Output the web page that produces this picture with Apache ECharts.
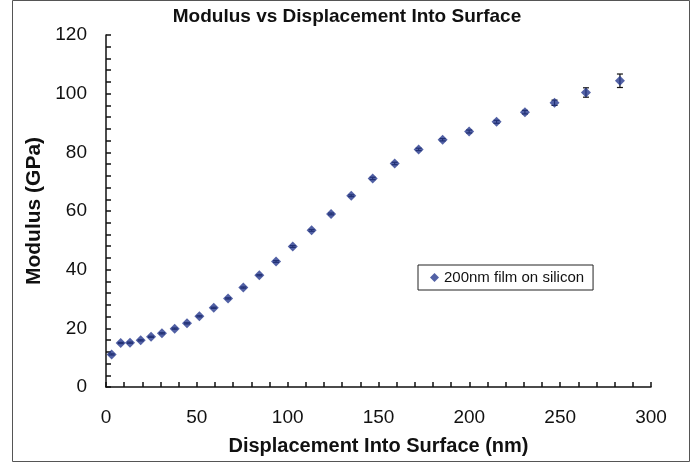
<!DOCTYPE html>
<html>
<head>
<meta charset="utf-8">
<script src="https://cdn.jsdelivr.net/npm/echarts@6/dist/echarts.min.js"></script>
<style>
html,body{margin:0;padding:0;background:#fff;}
#main{width:694px;height:463px;}
</style>
</head>
<body>
<div id="main"></div>
<script>
// displacement (nm) and modulus (GPa)
var depth = [3.1, 8.1, 13.2, 19.1, 24.8, 30.8, 37.8, 44.6, 51.4, 59.3, 67.2, 75.6, 84.4, 93.6,
	102.8, 113.2, 123.9, 135.0, 146.8, 158.9, 172.1, 185.3, 199.9, 215.0, 230.6, 246.9, 264.2, 282.9];
var modulus = [11.1, 15.0, 15.1, 15.9, 17.1, 18.3, 19.9, 21.7, 24.1, 27.0, 30.2, 33.9, 38.1, 42.8,
	47.9, 53.4, 59.0, 65.2, 71.1, 76.2, 81.0, 84.3, 87.1, 90.4, 93.7, 96.9, 100.4, 104.4];
var errBar = [0.2, 0.2, 0.2, 0.2, 0.2, 0.2, 0.2, 0.2, 0.2, 0.2, 0.2, 0.2, 0.2, 0.3,
	0.3, 0.3, 0.3, 0.3, 0.4, 0.4, 0.4, 0.4, 0.5, 0.5, 0.6, 0.9, 1.6, 2.3];
var seriesName = '200nm film on silicon';

var points = [], bars = [];
for (var i = 0; i < depth.length; i++) {
	points.push([depth[i], modulus[i]]);
	bars.push([depth[i], modulus[i] - errBar[i], modulus[i] + errBar[i]]);
}

var myChart = echarts.init(document.getElementById('main'));
var option = {
	backgroundColor: '#fff',
	animation: false,
	textStyle: { fontFamily: 'Liberation Sans, Arial, sans-serif' },
	title: {
		text: 'Modulus vs Displacement Into Surface',
		left: 'center',
		top: 2,
		textStyle: { fontSize: 19, fontWeight: 'bold', color: '#111' }
	},
	graphic: [{
		type: 'rect',
		shape: { x: 12.5, y: 0.5, width: 677, height: 461 },
		style: { fill: 'none', stroke: '#555', lineWidth: 1 },
		silent: true
	}],
	legend: {
		data: [{ name: seriesName, icon: 'diamond' }],
		left: 418,
		top: 265,
		itemWidth: 9,
		itemHeight: 9,
		itemGap: 4,
		padding: [5, 9, 5, 12],
		borderColor: '#222',
		borderWidth: 1,
		textStyle: { fontSize: 15, color: '#111' }
	},
	grid: { left: 106, right: 43, top: 35, bottom: 76 },
	xAxis: {
		type: 'value',
		min: 0, max: 300, interval: 50,
		name: 'Displacement Into Surface (nm)',
		nameLocation: 'middle',
		nameGap: 49,
		nameTextStyle: { fontSize: 20, fontWeight: 'bold', color: '#111' },
		axisLine: { lineStyle: { color: '#111', width: 1.5 } },
		axisTick: { show: true, inside: true, length: 5, lineStyle: { color: '#111', width: 1.5 } },
		minorTick: { show: true, splitNumber: 5, length: 5, lineStyle: { color: '#111', width: 1.5 } },
		axisLabel: { fontSize: 19, color: '#111', margin: 21 },
		splitLine: { show: false }
	},
	yAxis: {
		type: 'value',
		min: 0, max: 120, interval: 20,
		name: 'Modulus (GPa)',
		nameLocation: 'middle',
		nameGap: 55,
		nameTextStyle: { fontSize: 21, fontWeight: 'bold', color: '#111' },
		axisLine: { show: true, lineStyle: { color: '#111', width: 1.5 } },
		axisTick: { show: true, inside: true, length: 5, lineStyle: { color: '#111', width: 1.5 } },
		minorTick: { show: true, splitNumber: 5, length: 5, lineStyle: { color: '#111', width: 1.5 } },
		axisLabel: { fontSize: 19, color: '#111', margin: 19 },
		splitLine: { show: false }
	},
	series: [{
		name: 'errors',
		type: 'custom',
		data: bars,
		z: 1,
		renderItem: function(params, api) {
			var x = api.value(0);
			var lo = api.coord([x, api.value(1)]);
			var hi = api.coord([x, api.value(2)]);
			var w = 3;
			var st = { stroke: '#111', lineWidth: 1.2 };
			return {
				type: 'group',
				children: [
					{ type: 'line', shape: { x1: lo[0], y1: lo[1], x2: hi[0], y2: hi[1] }, style: st },
					{ type: 'line', shape: { x1: lo[0] - w, y1: lo[1], x2: lo[0] + w, y2: lo[1] }, style: st },
					{ type: 'line', shape: { x1: hi[0] - w, y1: hi[1], x2: hi[0] + w, y2: hi[1] }, style: st }
				]
			};
		}
	}, {
		name: seriesName,
		type: 'scatter',
		symbol: 'diamond',
		symbolSize: 10,
		z: 2,
		itemStyle: { color: '#27398f' },
		data: points
	}]
};
myChart.setOption(option);
</script>
</body>
</html>
